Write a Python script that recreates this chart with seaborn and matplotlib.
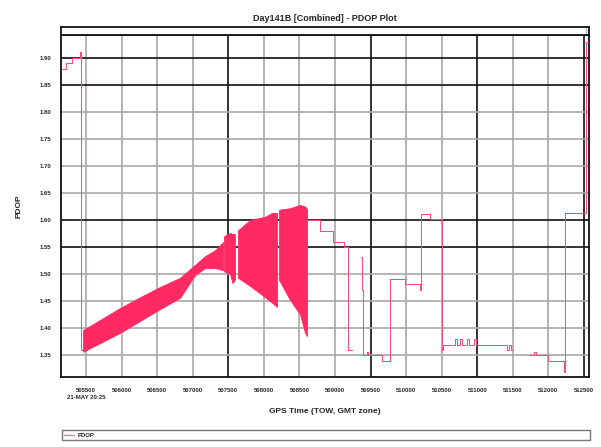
import numpy as np
import pandas as pd
import matplotlib
matplotlib.use("Agg")
import matplotlib.pyplot as plt
from matplotlib.lines import Line2D
import seaborn as sns

# ---- data -------------------------------------------------------------
# step trace of PDOP (GPS time of week, seconds); NaN marks missing epochs
trace_t = [505163, 505219, 505303, 505416, 505430, 505458, np.nan,
           508607, 508790, 508973, 509127, 509184, 509240, np.nan,
           509370, 509385, 509395, 509451, 509465, 509662, 509774, 509985,
           510200, 510215, 510337, 510505, 510520,
           510690, 510715, 510760, 510790, 510850, 510880, 510960, 510985,
           511419, 511440, 511470, 511503, np.nan,
           511742, 511800, 511820, 511995, 512215, 512234, 512530, 512560]
trace_v = [1.880, 1.891, 1.900, 1.911, 1.359, 1.359, np.nan,
           1.600, 1.580, 1.559, 1.550, 1.359, 1.359, np.nan,
           1.531, 1.470, 1.350, 1.355, 1.350, 1.339, 1.491, 1.481,
           1.470, 1.611, 1.602, 1.359, 1.369,
           1.380, 1.369, 1.380, 1.369, 1.380, 1.369, 1.380, 1.369,
           1.359, 1.369, 1.359, 1.359, np.nan,
           1.350, 1.355, 1.350, 1.339, 1.319, 1.613, 1.930, 1.930]

# rapidly alternating epochs: envelope (low / high) of each dense stretch
band1_t = [505458, 505697, 505978, 506259, 506540, 506822, 507033, 507173, 507314, 507426]
band1_lo = [1.356, 1.372, 1.391, 1.413, 1.435, 1.456, 1.498, 1.511, 1.511, 1.507]
band1_hi = [1.396, 1.415, 1.437, 1.457, 1.476, 1.493, 1.517, 1.533, 1.544, 1.559]

band2_t = [507440, 507525, 507560, 507595]
band2_lo = [1.505, 1.500, 1.483, 1.490]
band2_hi = [1.570, 1.576, 1.574, 1.574]

band3_t = [507637, 507806, 508017, 508115, 508185]
band3_lo = [1.493, 1.478, 1.457, 1.447, 1.439]
band3_hi = [1.581, 1.600, 1.606, 1.613, 1.613]

band4_t = [508214, 508368, 508509, 508579, 508607]
band4_lo = [1.489, 1.452, 1.425, 1.391, 1.385]
band4_hi = [1.619, 1.622, 1.628, 1.625, 1.620]

x_ticks = [505500, 506000, 506500, 507000, 507500, 508000, 508500, 509000,
           509500, 510000, 510500, 511000, 511500, 512000, 512500]
x_labels = ["505500\n21-MAY 20:25"] + [str(v) for v in x_ticks[1:]]
x_major = [507500, 509500, 511000, 512500]
y_ticks = [1.35, 1.40, 1.45, 1.50, 1.55, 1.60, 1.65, 1.70, 1.75, 1.80, 1.85, 1.90]
y_major = [1.55, 1.60, 1.85, 1.90]

# ---- styling ----------------------------------------------------------
sns.set_style("white")
plt.rcParams["font.family"] = ["Liberation Sans", "DejaVu Sans"]
plt.rcParams["font.weight"] = "bold"

RED = "#ff2a62"
THIN = "#ff4a7c"

fig = plt.figure(figsize=(6.01, 4.47), dpi=100)
ax = fig.add_axes([0.1015, 0.1566, 0.8785, 0.7651])
ax_top = fig.add_axes([0.1015, 0.9217, 0.8785, 0.0179])

# split the trace into continuous segments so gaps stay empty
df = pd.DataFrame({"t": trace_t, "v": trace_v})
df["seg"] = df["v"].isna().cumsum()
df = df.dropna()

ax.set_xlim(505149, 512570)
ax.set_ylim(1.3093, 1.9426)

# grid: light lines everywhere, dark lines on the major marks
for xv in x_ticks:
    ax.axvline(xv, color="#111111" if xv in x_major else "#a8a8a8",
               lw=1.2, zorder=0)
for yv in y_ticks:
    ax.axhline(yv, color="#111111" if yv in y_major else "#a8a8a8",
               lw=1.2, zorder=0)

for bt, blo, bhi in [(band1_t, band1_lo, band1_hi), (band2_t, band2_lo, band2_hi),
                     (band3_t, band3_lo, band3_hi), (band4_t, band4_lo, band4_hi)]:
    ax.fill_between(bt, blo, bhi, color=RED, lw=0.6, edgecolor=RED, zorder=2)

sns.lineplot(data=df, x="t", y="v", units="seg", estimator=None,
             color=THIN, lw=0.75, drawstyle="steps-post", ax=ax, zorder=3)

ax.set_xticks(x_ticks)
ax.set_xticklabels(x_labels, fontsize=4.3, fontweight="bold", linespacing=1.5)
ax.set_yticks(y_ticks)
ax.set_yticklabels([f"{v:.2f}" for v in y_ticks], fontsize=4.3, fontweight="bold")
ax.tick_params(axis="both", direction="out", length=3, width=0.8,
               color="#222222", pad=4)
ax.tick_params(axis="x", length=4)
ax.set_xlabel("GPS Time (TOW, GMT zone)", fontsize=6, fontweight="bold", labelpad=6)
ax.set_ylabel("PDOP", fontsize=6, fontweight="bold", labelpad=12)
for s in ax.spines.values():
    s.set_color("#111111")
    s.set_linewidth(1.3)

# narrow empty strip above the plot area
ax_top.set_xlim(ax.get_xlim())
ax_top.set_xticks([])
ax_top.set_yticks([])
ax_top.axvline(trace_t[-2], color="#9cc6f0", lw=1.0)
for s in ax_top.spines.values():
    s.set_color("#111111")
    s.set_linewidth(1.3)

fig.text(0.541, 0.958, "Day141B [Combined] - PDOP Plot", ha="center",
         va="center", fontsize=6.5, fontweight="bold")

handle = Line2D([], [], color="#ff7a9a", lw=1.0)
fig.legend([handle], ["PDOP"], loc="lower left",
           bbox_to_anchor=(0.103, 0.016, 0.879, 0.027), mode="expand",
           fontsize=4.3, frameon=True, fancybox=False, edgecolor="#555555",
           handlelength=1.6, handletextpad=0.6, borderpad=0.35,
           borderaxespad=0)

fig.savefig("out.png", dpi=100)
